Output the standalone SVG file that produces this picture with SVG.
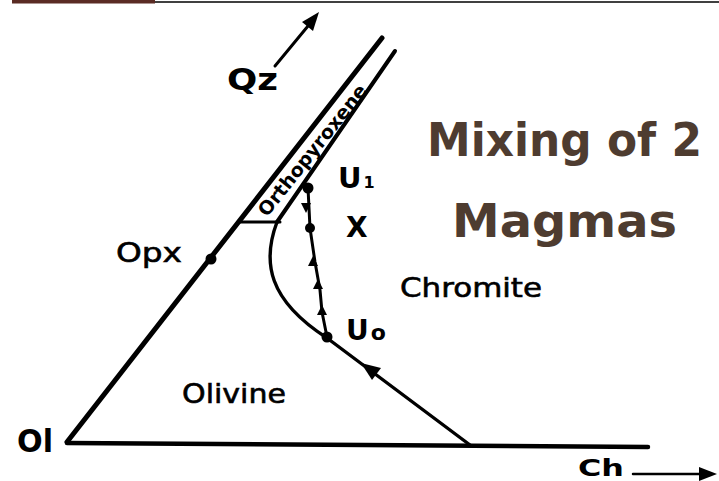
<svg xmlns="http://www.w3.org/2000/svg" width="719" height="481" viewBox="0 0 719 481">
<style>
.ln{stroke:#000;fill:none;stroke-linecap:round;stroke-linejoin:round}
.lbl{font-family:"DejaVu Sans",sans-serif;fill:#000}
.b{font-weight:bold}
.th{stroke:#000;stroke-width:0.6}
.title{font-family:"DejaVu Sans","Liberation Sans",sans-serif;font-weight:bold;fill:#4e3c30;font-size:46px}
.dot{fill:#000}
.head{fill:#000}
</style>
<rect x="12" y="0" width="143" height="3.5" fill="#5a2b24"/>
<line x1="155" y1="2" x2="719" y2="2" stroke="#000" stroke-width="1.6"/>
<g id="connectors">
<line class="ln" x1="67" y1="442" x2="382" y2="38" stroke-width="5"/>
<line class="ln" x1="67" y1="443" x2="648" y2="447" stroke-width="4.5"/>
<line class="ln" x1="277" y1="222" x2="395" y2="51" stroke-width="4"/>
<line class="ln" x1="239" y1="222" x2="280" y2="222" stroke-width="3"/>
<path class="ln" d="M277,222 C262,262 268,300 327,338 L470,445" stroke-width="3.4"/>
<polygon class="head" points="361,363 381,368 372,380"/>
<path class="ln" d="M308,188 L310,228 L315,262 L320,290 L322,312 L327,337" stroke-width="3"/>
<polygon class="head" points="306,213 301,203 311,203"/>
<polygon class="head" points="313,256 308,266 318,266"/>
<polygon class="head" points="318,279 313,289 323,289"/>
<polygon class="head" points="322,305 317,315 327,315"/>
<line class="ln" x1="275" y1="66" x2="308" y2="26" stroke-width="3"/>
<polygon class="head" points="319,12 313,31 302,22"/>
<line class="ln" x1="633" y1="474" x2="702" y2="474" stroke-width="2.5"/>
<polygon class="head" points="717,474 699,467 699,481"/>
</g>
<g id="Opx"><circle class="dot" cx="211" cy="259" r="5.5"/><text class="lbl th" x="116" y="262" font-size="27" textLength="66" lengthAdjust="spacingAndGlyphs">Opx</text></g>
<g id="U1"><circle class="dot" cx="308" cy="188" r="5.5"/><text class="lbl b" x="338" y="188" font-size="29">U<tspan font-size="16" dx="2">1</tspan></text></g>
<g id="X"><circle class="dot" cx="310" cy="228" r="5"/><text class="lbl b" x="346" y="237" font-size="28">X</text></g>
<g id="U0"><circle class="dot" cx="327" cy="337" r="5.5"/><text class="lbl b" x="346" y="340" font-size="28">U<tspan font-size="22" dx="2">o</tspan></text></g>
<g id="Qz"><text class="lbl b" x="227" y="90" font-size="31" textLength="51" lengthAdjust="spacingAndGlyphs">Qz</text></g>
<g id="Orthopyroxene"><text class="lbl b" transform="translate(312,150) rotate(-51.5)" text-anchor="middle" dominant-baseline="central" font-size="19" textLength="162" lengthAdjust="spacingAndGlyphs">Orthopyroxene</text></g>
<g id="Chromite"><text class="lbl th" x="400" y="297" font-size="27" textLength="142" lengthAdjust="spacingAndGlyphs">Chromite</text></g>
<g id="Olivine"><text class="lbl th" x="182" y="403" font-size="27" textLength="104" lengthAdjust="spacingAndGlyphs">Olivine</text></g>
<g id="Ol"><text class="lbl b" x="17" y="452" font-size="32" textLength="36" lengthAdjust="spacingAndGlyphs">Ol</text></g>
<g id="Ch"><text class="lbl b" x="578" y="476" font-size="23" textLength="46" lengthAdjust="spacingAndGlyphs">Ch</text></g>
<g id="title">
<text class="title" x="427" y="156" textLength="275" lengthAdjust="spacingAndGlyphs">Mixing of 2</text>
<text class="title" x="452" y="237" textLength="225" lengthAdjust="spacingAndGlyphs">Magmas</text>
</g>
</svg>
